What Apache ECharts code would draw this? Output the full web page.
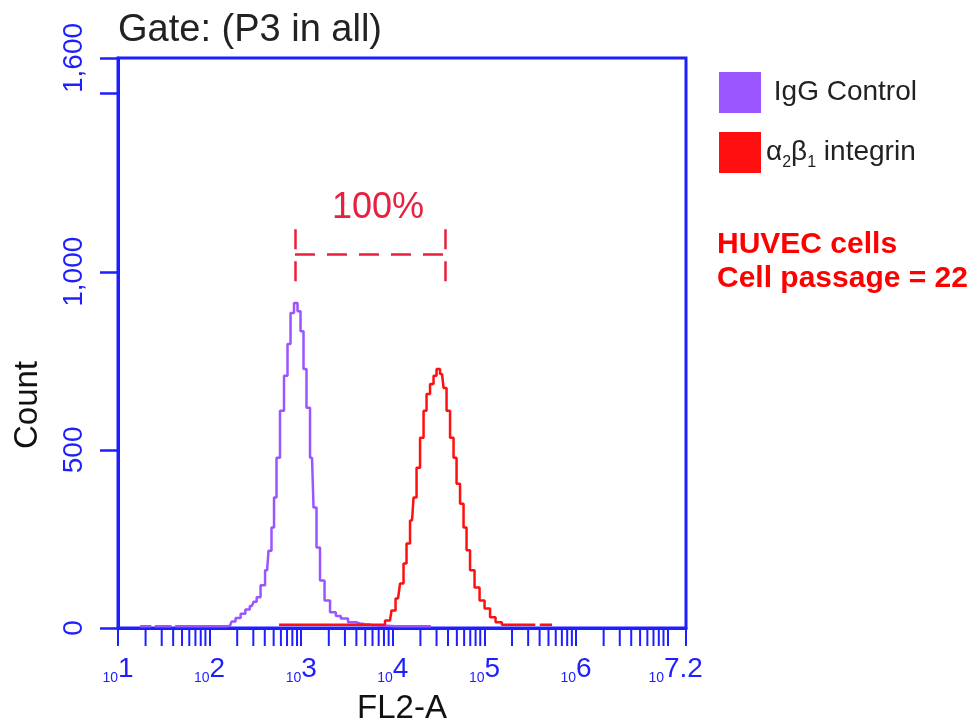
<!DOCTYPE html>
<html><head><meta charset="utf-8">
<script src="https://cdn.jsdelivr.net/npm/echarts@6/dist/echarts.min.js"></script>
<style>html,body{margin:0;padding:0;background:#fff}#c{width:979px;height:723px}</style>
</head><body><div id="c"></div>
<script>
// ---- data (FL2-A fluorescence vs count) ----
const iggX = [17.4, 22.3, 24, 26.6, 37, 40, 44, 60, 80, 110, 140, 167, 180, 205, 232, 260, 290, 315, 338, 383, 424, 456, 492, 518, 558, 617, 682, 736, 794, 877, 946, 1021, 1099, 1186, 1312, 1415, 1525, 1687, 1914, 2225, 2560, 2858, 3681, 4400, 4977, 6000, 7250, 10570, 15410, 20000, 26120];
const iggY = [5, 5, '-', 5, 5, '-', 5, 5, 5, 5, 5, 6, 18, 28, 40, 52, 62, 74, 86, 120, 162, 217, 282, 366, 478, 610, 708, 797, 884, 912, 889, 833, 727, 618, 478, 338, 226, 133, 77, 44, 34, 27, 16, 12, 10, 8, 6, 5, 5, 5, 5];
const intX = [573, 971, 2060, 4383, 7250, 9310, 10050, 11400, 12600, 13580, 14650, 16200, 17470, 18850, 20840, 22480, 24230, 26790, 28900, 31140, 34440, 37150, 40080, 44290, 47760, 51510, 56930, 61410, 66230, 73210, 83000, 94160, 106800, 124100, 140700, 170000, 215600, 339300, 380000, 425300, 547000];
const intY = [9, 9, 9, 9, 9, 21, 49, 83, 125, 181, 237, 302, 366, 450, 534, 610, 657, 685, 708, 727, 713, 674, 610, 534, 478, 405, 349, 282, 218, 162, 114, 77, 55, 30, 16, 9, 9, 9, '-', 9, 9];
const seriesNames = ['IgG Control', 'α2β1 integrin'];
const yTickValues = [0, 500, 1000, 1500, 1600];
const yTickLabels = ['0', '500', '1,000', '', '1,600'];
const xDecadeExp = [1, 2, 3, 4, 5, 6, 7];
const xDecadeLabels = ['1', '2', '3', '4', '5', '6', '7.2'];
const xMinExp = 1, xMaxExp = 7.2;
// annotation "100%" bracket (data coords)
const bracketX = [855, 37150];
const bracketY = 1049;
const bracketCap = [973, 1127];
const bracketTextPos = [6890, 1178];

const BLUE = '#1e1eff';
const PURPLE = '#9b55ff';
const RED = '#ff0f0f';
const ANNO = '#e8203f';
const FONT = '"Liberation Sans", Arial, sans-serif';

// minor log ticks (2..9 per decade) for the log axis
const minorTicks = [];
for (let d = xMinExp; d < Math.ceil(xMaxExp); d++) {
  for (let k = 2; k <= 9; k++) {
    const v = k * Math.pow(10, d);
    if (Math.log10(v) <= xMaxExp) minorTicks.push([v, 0]);
  }
}

const iggData = iggX.map((x, i) => [x, iggY[i]]);
const intData = intX.map((x, i) => [x, intY[i]]);

const chart = echarts.init(document.getElementById('c'), null, {renderer: 'canvas'});
chart.setOption({
  animation: false,
  backgroundColor: '#fff',
  grid: {left: 118, top: 58, right: 293, bottom: 95, containLabel: false, outerBoundsMode: 'none',
    show: true, borderColor: BLUE, borderWidth: 3, backgroundColor: 'transparent'},
  legend: {
    data: seriesNames,
    orient: 'vertical', left: 714, top: 67,
    itemWidth: 42, itemHeight: 41, itemGap: 19,
    icon: 'rect', selectedMode: false,
    formatter: n => n === seriesNames[0] ? ' IgG Control' : 'α{s|2}β{s|1} integrin',
    textStyle: {fontSize: 28, color: '#222', fontFamily: FONT,
      rich: {s: {fontSize: 16, color: '#222', fontFamily: FONT, verticalAlign: 'bottom', padding: [0, 0, -4, 0]}}}
  },
  xAxis: {
    type: 'log', logBase: 10,
    min: Math.pow(10, xMinExp), max: Math.pow(10, xMaxExp),
    name: 'FL2-A', nameLocation: 'middle', nameGap: 64,
    nameTextStyle: {fontSize: 33, color: '#111', fontFamily: FONT},
    axisLine: {show: true, lineStyle: {color: BLUE, width: 3}},
    axisTick: {show: true, inside: false, length: 18, lineStyle: {color: BLUE, width: 2}},
    splitLine: {show: false}, minorTick: {show: false},
    axisLabel: {
      margin: 25, color: BLUE,
      formatter: v => {
        const e = Math.round(Math.log10(v) * 10) / 10;
        const idx = xDecadeExp.indexOf(e);
        if (idx < 0) return '';
        const lab = xDecadeLabels[idx];
        return (lab.length > 1 ? '{p|}' : '') + '{b|10}{e|' + lab + '}';
      },
      rich: {
        b: {fontSize: 14, color: BLUE, fontFamily: FONT, verticalAlign: 'bottom'},
        e: {fontSize: 28, color: BLUE, fontFamily: FONT, lineHeight: 32},
        p: {width: 16}
      }
    }
  },
  yAxis: {
    type: 'value', min: 0, max: 1600, interval: 500,
    axisLine: {show: true, lineStyle: {color: BLUE, width: 3}},
    axisTick: {show: true, inside: false, length: 18, lineStyle: {color: BLUE, width: 2.5}},
    splitLine: {show: false},
    axisLabel: {
      rotate: 90, margin: 30, color: BLUE, fontSize: 28, fontFamily: FONT,
      formatter: v => { const i = yTickValues.indexOf(v); return i < 0 ? '' : yTickLabels[i]; }
    }
  },
  graphic: [
    {type: 'text', left: 118, top: 12, style: {text: 'Gate: (P3 in all)', font: '38px ' + FONT, fill: '#222'}},
    {type: 'text', x: 28, y: 405, rotation: Math.PI / 2, style: {text: 'Count', font: '33px ' + FONT, fill: '#111', align: 'center', verticalAlign: 'middle'}},
    {type: 'text', left: 717, top: 228, style: {text: 'HUVEC cells\nCell passage = 22', font: 'bold 30px ' + FONT, fill: '#ff0000', lineHeight: 34}}
  ],
  series: [
    {
      name: seriesNames[0], type: 'line', data: iggData, step: 'middle',
      showSymbol: false, symbol: 'none', connectNulls: false, silent: true, z: 3,
      color: PURPLE, lineStyle: {color: PURPLE, width: 2.5}
    },
    {
      name: seriesNames[1], type: 'line', data: intData, step: 'middle',
      showSymbol: false, symbol: 'none', connectNulls: false, silent: true, z: 4,
      color: RED, lineStyle: {color: RED, width: 2.5},
      markLine: {
        silent: true, symbol: ['none', 'none'], label: {show: false},
        lineStyle: {color: ANNO, type: [20, 12], width: 2.5},
        emphasis: {disabled: true},
        data: [
          [{coord: [bracketX[0], bracketY]}, {coord: [bracketX[1], bracketY]}],
          [{coord: [bracketX[0], bracketCap[0]]}, {coord: [bracketX[0], bracketCap[1]]}],
          [{coord: [bracketX[1], bracketCap[0]]}, {coord: [bracketX[1], bracketCap[1]]}]
        ]
      },
      markPoint: {
        silent: true, symbol: 'rect', symbolSize: 1,
        itemStyle: {color: 'transparent'},
        label: {show: true, position: 'inside', formatter: '100%', color: ANNO, fontSize: 36, fontFamily: FONT},
        data: [{coord: bracketTextPos}]
      }
    },
    {
      name: 'minorTicks', type: 'custom', data: minorTicks, silent: true, clip: false, z: 1,
      renderItem: (params, api) => {
        const p = api.coord([api.value(0), 0]);
        return {type: 'line', shape: {x1: p[0], y1: p[1], x2: p[0], y2: p[1] + 18}, style: {stroke: BLUE, lineWidth: 2}};
      }
    }
  ]
});
</script></body></html>
